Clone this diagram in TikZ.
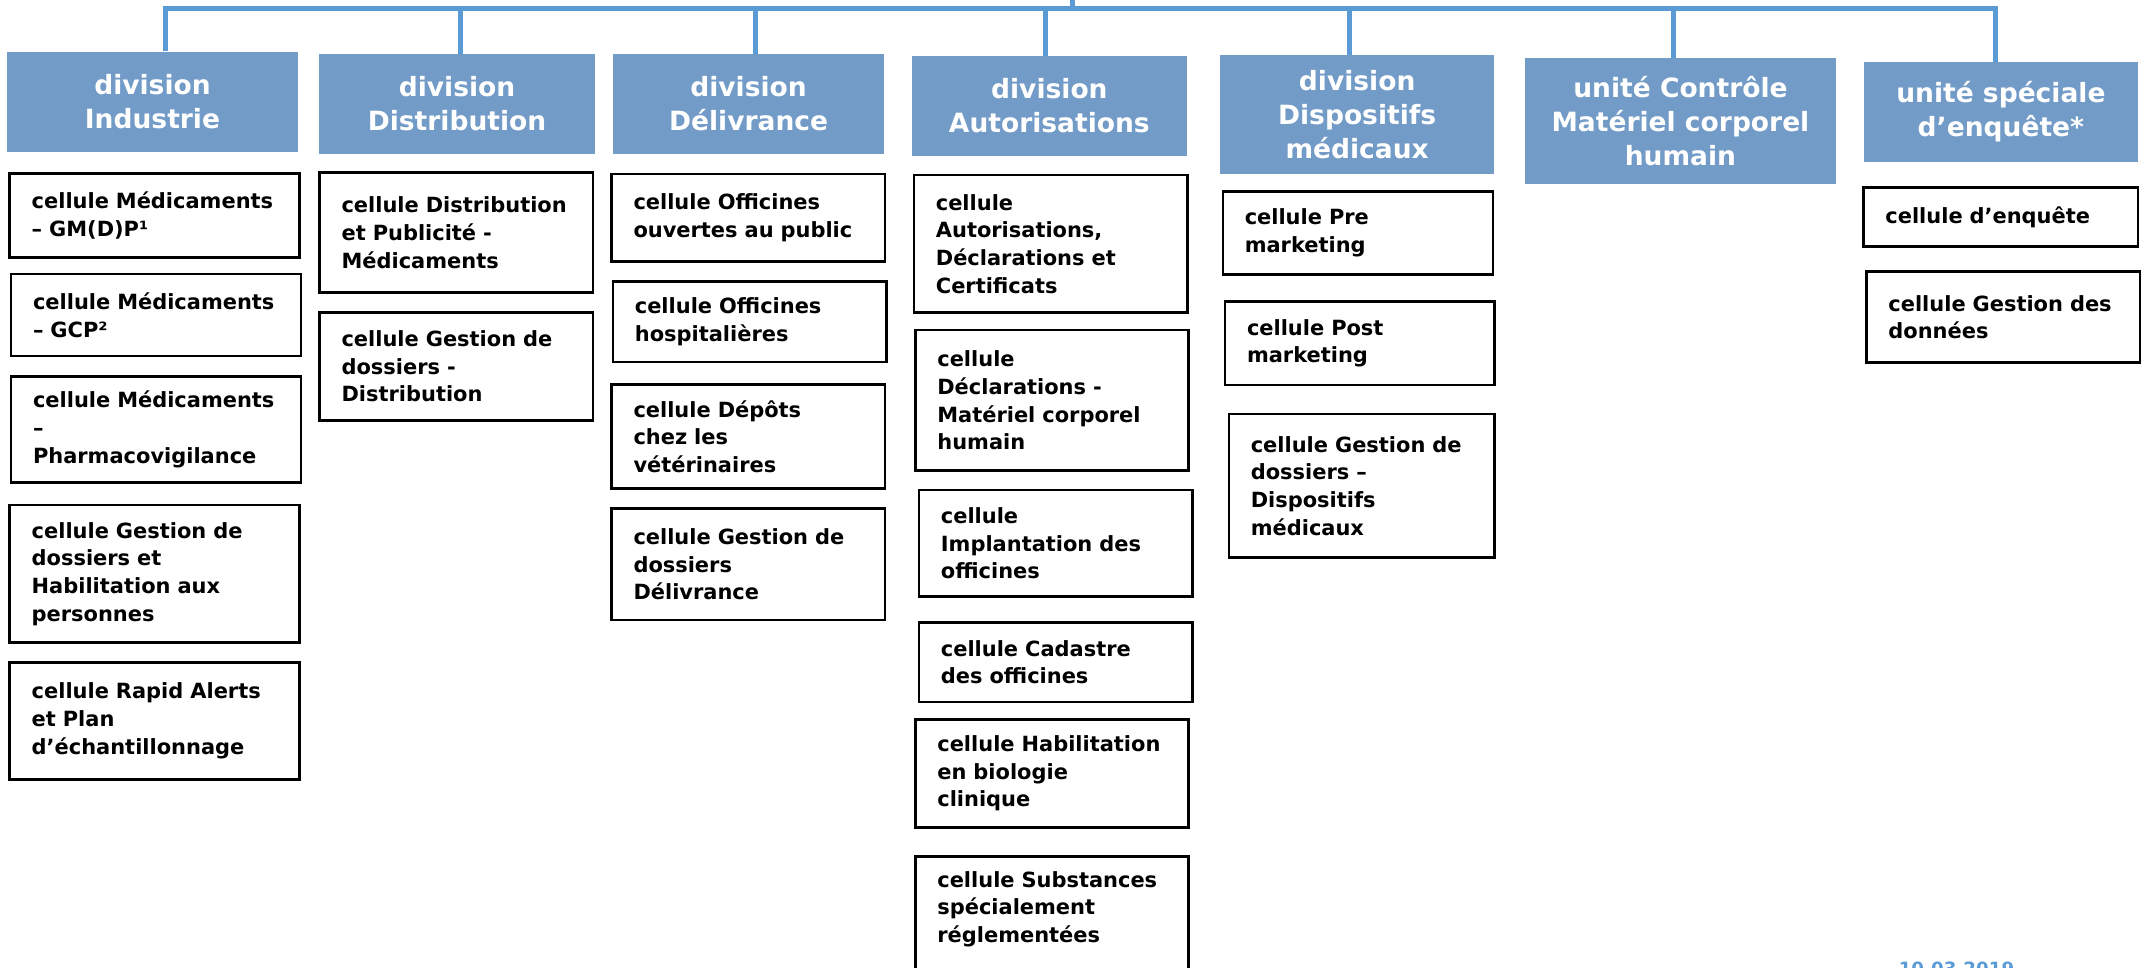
\documentclass[tikz,border=0pt]{standalone}
\usepackage{fontspec}
\setmainfont{DejaVu Sans}

\definecolor{headblue}{RGB}{114,155,199}
\definecolor{linkblue}{RGB}{91,155,213}

\begin{document}
\begin{tikzpicture}[
    division/.style={fill=headblue,draw=none,text=white,align=center,
        font=\bfseries\fontsize{13.8}{17.6}\selectfont,inner sep=2pt},
    cell/.style={draw=black,line width=1.4pt,fill=white,align=left,
        text width=#1,inner xsep=0.4cm,inner ysep=0.1cm,
        font=\bfseries\fontsize{10.9}{14.4}\selectfont},
    cell/.default=4.2cm,
    link/.style={draw=linkblue,line width=2.6pt},
    stamp/.style={text=linkblue,font=\bfseries\fontsize{9.5}{11}\selectfont,
        inner sep=0pt}
]
    \useasboundingbox (0,0) rectangle (39.2,-17.7);

    \node[division,minimum width=5.32cm,minimum height=1.83cm] (h1) at (2.789,-1.86)
        {division\\Industrie};
    \node[division,minimum width=5.045cm,minimum height=1.825cm] (h2) at (8.36,-1.9)
        {division\\Distribution};
    \node[division,minimum width=4.955cm,minimum height=1.825cm] (h3) at (13.693,-1.9)
        {division\\Délivrance};
    \node[division,minimum width=5.04cm,minimum height=1.825cm] (h4) at (19.195,-1.9375)
        {division\\Autorisations};
    \node[division,minimum width=5cm,minimum height=2.178cm] (h5) at (24.825,-2.094)
        {division\\Dispositifs\\médicaux};
    \node[division,minimum width=5.698cm,minimum height=2.293cm] (h6) at (30.739,-2.214)
        {unité Contrôle\\Matériel corporel\\humain};
    \node[division,minimum width=5cm,minimum height=1.825cm] (h7) at (36.6,-2.048)
        {unité spéciale\\d’enquête*};

    \coordinate (bus) at (0,-0.155);
    \coordinate (root) at (19.61,0);
    \draw[link] (root) -- (root |- bus);
    \draw[link,line cap=rect] ([xshift=0.245cm]h1.north |- bus) -- ([xshift=-0.1cm]h7.north |- bus);
    \foreach \h/\dx in {h1/0.245,h2/0.065,h3/0.12,h4/-0.07,h5/-0.14,h6/-0.125,h7/-0.1} {
        \draw[link] ([xshift=\dx cm]\h.north) -- ([xshift=\dx cm]\h.north |- bus);
    }

    \node[cell=4.5cm,minimum height=1.543cm] (c1) at (2.83,-3.941)
        {cellule Médicaments\\– GM(D)P¹};
    \node[cell=4.5cm,minimum height=1.5cm] (c2) at (2.854,-5.763)
        {cellule Médicaments\\– GCP²};
    \node[cell=4.5cm,minimum height=1.933cm] (c3) at (2.854,-7.856)
        {cellule Médicaments\\–\\Pharmacovigilance};
    \node[cell=4.5cm,minimum height=2.518cm] (c4) at (2.83,-10.496)
        {cellule Gestion de\\dossiers et\\Habilitation aux\\personnes};
    \node[cell=4.5cm,minimum height=2.14cm] (c5) at (2.83,-13.185)
        {cellule Rapid Alerts\\et Plan\\d’échantillonnage};

    \node[cell,minimum height=2.198cm] (d1) at (8.348,-4.256)
        {cellule Distribution\\et Publicité -\\Médicaments};
    \node[cell,minimum height=1.983cm] (d2) at (8.348,-6.704)
        {cellule Gestion de\\dossiers -\\Distribution};

    \node[cell,minimum height=1.605cm] (e1) at (13.688,-3.985)
        {cellule Officines\\ouvertes au public};
    \node[cell,minimum height=1.478cm] (e2) at (13.713,-5.884)
        {cellule Officines\\hospitalières};
    \node[cell,minimum height=1.91cm] (e3) at (13.688,-7.985)
        {cellule Dépôts\\chez les\\vétérinaires};
    \node[cell,minimum height=2.035cm] (e4) at (13.688,-10.323)
        {cellule Gestion de\\dossiers\\Délivrance};

    \node[cell,minimum height=2.52cm] (f1) at (19.219,-4.46)
        {cellule\\Autorisations,\\Déclarations et\\Certificats};
    \node[cell,minimum height=2.573cm] (f2) at (19.246,-7.324)
        {cellule\\Déclarations -\\Matériel corporel\\humain};
    \node[cell,minimum height=1.953cm] (f3) at (19.311,-9.939)
        {cellule\\Implantation des\\officines};
    \node[cell,minimum height=1.45cm] (f4) at (19.311,-12.115)
        {cellule Cadastre\\des officines};
    \node[cell,minimum height=1.975cm] (f5) at (19.246,-14.145)
        {cellule Habilitation\\en biologie\\clinique};
    \node[cell,minimum height=2.9cm,text depth=2.07cm,anchor=north] (f6) at (19.246,-15.645)
        {cellule Substances\\spécialement\\réglementées};

    \node[cell=4.14cm,minimum height=1.525cm] (g1) at (24.839,-4.263)
        {cellule Pre\\marketing};
    \node[cell=4.13cm,minimum height=1.525cm] (g2) at (24.875,-6.28)
        {cellule Post\\marketing};
    \node[cell=4.06cm,minimum height=2.62cm] (g3) at (24.91,-8.885)
        {cellule Gestion de\\dossiers –\\Dispositifs\\médicaux};

    \node[cell=4.22cm,minimum height=1.08cm] (k1) at (36.598,-3.973)
        {cellule d’enquête};
    \node[cell=4.2cm,minimum height=1.665cm] (k2) at (36.643,-5.803)
        {cellule Gestion des\\données};

    \node[stamp,anchor=north west] (date) at (34.725,-17.59) {10.03.2019};

\end{tikzpicture}
\end{document}
